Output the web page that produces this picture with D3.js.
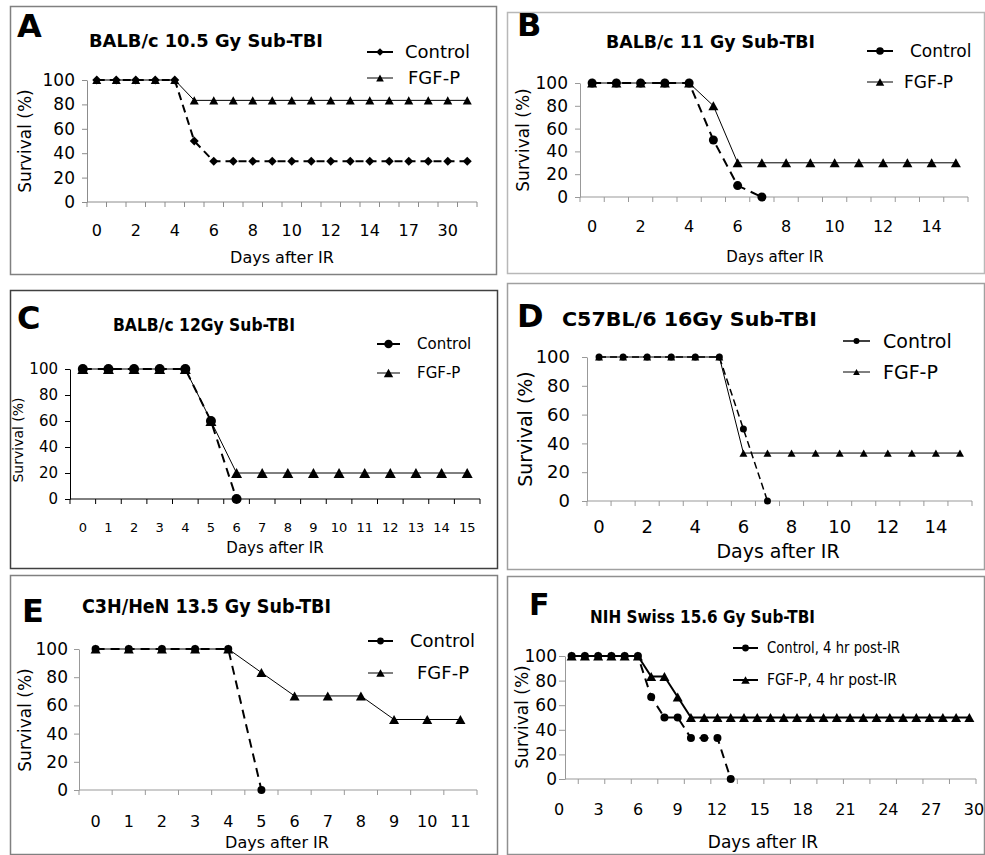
<!DOCTYPE html>
<html>
<head>
<meta charset="utf-8">
<script src="https://cdn.jsdelivr.net/npm/d3@7"></script>
<style>
  body { margin: 0; background: #fff; }
  svg { display: block; }
  text { font-family: "DejaVu Sans", sans-serif; fill: #000; }
</style>
</head>
<body>
<svg id="chart" width="985" height="855"></svg>
<script>
// ---- data ----
const yTicks = [0, 20, 40, 60, 80, 100];
const legendLabels = ["Control", "FGF-P"];
const legendLabelsF = ["Control, 4 hr post-IR", "FGF-P, 4 hr post-IR"];

// A: BALB/c 10.5 Gy
const daysA = ["0","1","2","3","4","5","6","7","8","9","10","11","12","13","14","15","17","21","30","31"];
const controlA = [100,100,100,100,100,50,33.3,33.3,33.3,33.3,33.3,33.3,33.3,33.3,33.3,33.3,33.3,33.3,33.3,33.3];
const fgfA = [100,100,100,100,100,83.3,83.3,83.3,83.3,83.3,83.3,83.3,83.3,83.3,83.3,83.3,83.3,83.3,83.3,83.3];

// B: BALB/c 11 Gy
const daysB = ["0","1","2","3","4","5","6","7","8","9","10","11","12","13","14","15"];
const controlB = [100,100,100,100,100,50,10,0];
const fgfB = [100,100,100,100,100,80,30,30,30,30,30,30,30,30,30,30];

// C: BALB/c 12 Gy
const daysC = ["0","1","2","3","4","5","6","7","8","9","10","11","12","13","14","15"];
const controlC = [100,100,100,100,100,60,0];
const fgfC = [100,100,100,100,100,60,20,20,20,20,20,20,20,20,20,20];

// D: C57BL/6 16 Gy
const daysD = ["0","1","2","3","4","5","6","7","8","9","10","11","12","13","14","15"];
const controlD = [100,100,100,100,100,100,50,0];
const fgfD = [100,100,100,100,100,100,33.3,33.3,33.3,33.3,33.3,33.3,33.3,33.3,33.3,33.3];

// E: C3H/HeN 13.5 Gy
const daysE = ["0","1","2","3","4","5","6","7","8","9","10","11"];
const controlE = [100,100,100,100,100,0];
const fgfE = [100,100,100,100,100,83.3,66.7,66.7,66.7,50,50,50];

// F: NIH Swiss 15.6 Gy
const daysF = ["1","2","3","4","5","6","7","8","9","10","11","12","13","14","15","16","17","18","19","20","21","22","23","24","25","26","27","28","29","30","31"];
const controlF = [100,100,100,100,100,100,66.7,50,50,33.3,33.3,33.3,0];
const fgfF = [100,100,100,100,100,100,83.3,83.3,66.7,50,50,50,50,50,50,50,50,50,50,50,50,50,50,50,50,50,50,50,50,50,50];
const tickLabelsF = [0, 3, 6, 9, 12, 15, 18, 21, 24, 27, 30];

const svg = d3.select('#chart');

function markerPath(type, s) {
  if (type === 'diamond') return `M0,${-s}L${s},0L0,${s}L${-s},0Z`;
  if (type === 'triangle') {
    const h = s * 0.9;
    return `M0,${-h / 2}L${s / 2},${h / 2}L${-s / 2},${h / 2}Z`;
  }
  return `M${s},0A${s},${s} 0 1,1 ${-s},0A${s},${s} 0 1,1 ${s},0Z`;
}

function drawPanel(p) {
  const g = svg.append('g').attr('class', 'panel-' + p.id);
  const font = p.font || '"DejaVu Sans", sans-serif';
  const [bx0, by0, bx1, by1] = p.box;
  g.append('rect')
    .attr('x', bx0 + 0.5).attr('y', by0 + 0.5)
    .attr('width', bx1 - bx0).attr('height', by1 - by0)
    .attr('fill', 'none').attr('stroke', p.boxColor).attr('stroke-width', 1.5);

  const x = d3.scaleBand().domain(p.days).range([p.plot.x0, p.plot.x1]);
  const y = d3.scaleLinear().domain([0, 100]).range([p.plot.bottom, p.plot.top]);
  const cx = d => x(d) + x.bandwidth() / 2;

  // y axis
  const ya = g.append('g')
    .attr('transform', `translate(${p.plot.x0},0)`)
    .call(d3.axisLeft(y).tickValues(yTicks).tickSize(p.yLab.tick).tickPadding(p.yLab.pad).tickSizeOuter(0));
  ya.select('.domain').attr('stroke', p.axisColor);
  ya.selectAll('.tick line').attr('stroke', p.axisColor);
  ya.selectAll('.tick text')
    .attr('font-size', p.yLab.size).attr('font-family', font).attr('fill', '#000');

  // x axis: ticks sit between categories
  const xa = g.append('g');
  xa.append('line')
    .attr('x1', p.plot.x0).attr('x2', p.plot.x1)
    .attr('y1', p.plot.bottom).attr('y2', p.plot.bottom)
    .attr('stroke', p.axisColor);
  const idx = d3.range(p.tickStart || 0, p.days.length + 1, p.tickStep || 1);
  xa.selectAll('line.tk').data(idx).join('line').attr('class', 'tk')
    .attr('x1', i => p.plot.x0 + i * x.step()).attr('x2', i => p.plot.x0 + i * x.step())
    .attr('y1', p.plot.bottom).attr('y2', p.plot.bottom + 5)
    .attr('stroke', p.axisColor);

  if (p.labelScale) {
    xa.selectAll('text.xl').data(p.labelTicks).join('text').attr('class', 'xl')
      .attr('x', d => p.labelScale(d)).attr('y', p.xLab.y)
      .attr('text-anchor', 'middle').attr('font-size', p.xLab.size).attr('font-family', font)
      .text(d => d);
  } else {
    xa.selectAll('text.xl').data(p.days.filter((d, i) => i % p.labelEvery === 0)).join('text').attr('class', 'xl')
      .attr('x', d => cx(d)).attr('y', p.xLab.y)
      .attr('text-anchor', 'middle').attr('font-size', p.xLab.size).attr('font-family', font)
      .text(d => d);
  }

  // axis titles
  g.append('text')
    .attr('transform', `translate(${p.yTitle.x},${p.yTitle.y}) rotate(-90)`)
    .attr('text-anchor', 'middle').attr('dy', '0.35em')
    .attr('font-size', p.yTitle.size).attr('font-family', font)
    .text('Survival (%)');
  g.append('text')
    .attr('x', p.xTitle.x).attr('y', p.xTitle.y)
    .attr('text-anchor', 'middle')
    .attr('font-size', p.xTitle.size).attr('font-family', font)
    .text('Days after IR');

  // panel letter + title
  g.append('text')
    .attr('x', p.letter.x).attr('y', p.letter.y)
    .attr('font-size', p.letter.size).attr('font-weight', 'bold')
    .attr('font-family', '"Liberation Sans", Arial, sans-serif')
    .text(p.id);
  g.append('text')
    .attr('x', p.titleStyle.x).attr('y', p.titleStyle.y)
    .attr('font-size', p.titleStyle.size).attr('font-weight', 'bold')
    .attr('textLength', p.titleStyle.len).attr('lengthAdjust', 'spacingAndGlyphs')
    .text(p.title);

  // series
  const series = [
    { vals: p.control, st: p.ctrl },
    { vals: p.fgf, st: p.fg }
  ];
  const line = d3.line().x(d => cx(d.day)).y(d => y(d.v));
  series.forEach(s => {
    s.pts = s.vals.map((v, i) => ({ day: p.days[i], v: v }));
    g.append('path').datum(s.pts)
      .attr('d', line)
      .attr('fill', 'none').attr('stroke', '#000')
      .attr('stroke-width', s.st.width)
      .attr('stroke-dasharray', s.st.dash || null);
  });
  [series[1], series[0]].forEach(s => {
    g.selectAll(null).data(s.pts).join('path')
      .attr('transform', d => `translate(${cx(d.day)},${y(d.v)})`)
      .attr('d', markerPath(s.st.marker, s.st.size))
      .attr('fill', '#000');
  });

  // legend
  const labels = p.legend;
  series.forEach((s, i) => {
    const ly = p.leg.ys[i];
    g.append('line')
      .attr('x1', p.leg.x1).attr('x2', p.leg.x2).attr('y1', ly).attr('y2', ly)
      .attr('stroke', '#000').attr('stroke-width', s.st.width);
    g.append('path')
      .attr('transform', `translate(${(p.leg.x1 + p.leg.x2) / 2},${ly})`)
      .attr('d', markerPath(s.st.marker, s.st.size * 0.85))
      .attr('fill', '#000');
    const t = g.append('text')
      .attr('x', p.leg.tx[i]).attr('y', ly).attr('dy', '0.35em')
      .attr('font-size', p.leg.size).attr('font-family', font)
      .text(labels[i]);
    if (p.leg.len) t.attr('textLength', p.leg.len[i]).attr('lengthAdjust', 'spacingAndGlyphs');
  });
}

const panels = [
  {
    id: 'A', days: daysA, control: controlA, fgf: fgfA, legend: legendLabels, labelEvery: 2,
    title: 'BALB/c 10.5 Gy Sub-TBI',
    box: [10, 6, 496, 274], boxColor: '#808080', axisColor: '#8c8c8c',
    plot: { x0: 87, x1: 477, top: 80, bottom: 202 },
    letter: { x: 17, y: 37, size: 32 }, titleStyle: { x: 89, y: 47, size: 18, len: 234 },
    yLab: { size: 17, tick: 5, pad: 7 }, xLab: { y: 236, size: 16 },
    yTitle: { x: 25, y: 141, size: 17 }, xTitle: { x: 282, y: 263, size: 16 },
    leg: { x1: 367, x2: 393, ys: [52, 78], tx: [405, 408], size: 18 },
    ctrl: { marker: 'diamond', size: 4.5, width: 2, dash: '8,5' },
    fg: { marker: 'triangle', size: 9, width: 1 }
  },
  {
    id: 'B', days: daysB, control: controlB, fgf: fgfB, legend: legendLabels, labelEvery: 2,
    title: 'BALB/c 11 Gy Sub-TBI',
    box: [507, 12, 984, 273], boxColor: '#b8b8b8', axisColor: '#999',
    plot: { x0: 580, x1: 968, top: 83, bottom: 197 },
    letter: { x: 517, y: 36, size: 32 }, titleStyle: { x: 606, y: 48, size: 18, len: 209 },
    yLab: { size: 17, tick: 5, pad: 7 }, xLab: { y: 232, size: 16 },
    yTitle: { x: 523, y: 140, size: 17 }, xTitle: { x: 775, y: 262, size: 15 },
    leg: { x1: 867, x2: 893, ys: [51, 82], tx: [910, 904], size: 17 },
    ctrl: { marker: 'circle', size: 4.5, width: 2, dash: '9,6' },
    fg: { marker: 'triangle', size: 10, width: 1 }
  },
  {
    id: 'C', days: daysC, control: controlC, fgf: fgfC, legend: legendLabels, labelEvery: 1,
    title: 'BALB/c 12Gy Sub-TBI', font: '"Liberation Sans", Arial, sans-serif',
    box: [10, 290, 497, 568], boxColor: '#404040', axisColor: '#000',
    plot: { x0: 70, x1: 480, top: 369, bottom: 499 },
    letter: { x: 17, y: 329, size: 32 }, titleStyle: { x: 113, y: 331, size: 17, len: 182 },
    yLab: { size: 15, tick: 5, pad: 7 }, xLab: { y: 532, size: 13 },
    yTitle: { x: 18, y: 440, size: 14 }, xTitle: { x: 275, y: 553, size: 15 },
    leg: { x1: 377, x2: 400, ys: [344, 373], tx: [417, 417], size: 15 },
    ctrl: { marker: 'circle', size: 5, width: 2, dash: '9,6' },
    fg: { marker: 'triangle', size: 11, width: 1 }
  },
  {
    id: 'D', days: daysD, control: controlD, fgf: fgfD, legend: legendLabels, labelEvery: 2,
    title: 'C57BL/6 16Gy Sub-TBI',
    box: [507, 283, 984, 569], boxColor: '#a0a0a0', axisColor: '#999',
    plot: { x0: 587, x1: 972, top: 357, bottom: 501 },
    letter: { x: 517, y: 327, size: 32 }, titleStyle: { x: 562, y: 326, size: 20, len: 255 },
    yLab: { size: 18, tick: 5, pad: 12 }, xLab: { y: 533, size: 18 },
    yTitle: { x: 525, y: 429, size: 19 }, xTitle: { x: 778, y: 558, size: 19 },
    leg: { x1: 843, x2: 870, ys: [341, 372], tx: [883, 883], size: 19 },
    ctrl: { marker: 'circle', size: 3.5, width: 1.5, dash: '7,4' },
    fg: { marker: 'triangle', size: 8, width: 1 }
  },
  {
    id: 'E', days: daysE, control: controlE, fgf: fgfE, legend: legendLabels, labelEvery: 1,
    title: 'C3H/HeN 13.5 Gy Sub-TBI',
    box: [10, 575, 497, 854], boxColor: '#808080', axisColor: '#999',
    plot: { x0: 79, x1: 477, top: 649, bottom: 790 },
    letter: { x: 22, y: 622, size: 32 }, titleStyle: { x: 82, y: 613, size: 19, len: 249 },
    yLab: { size: 17, tick: 5, pad: 6 }, xLab: { y: 827, size: 16 },
    yTitle: { x: 25, y: 720, size: 17 }, xTitle: { x: 277, y: 848, size: 16 },
    leg: { x1: 368, x2: 393, ys: [641, 673], tx: [410, 417], size: 18 },
    ctrl: { marker: 'circle', size: 4, width: 2, dash: '9,6' },
    fg: { marker: 'triangle', size: 10, width: 1 }
  },
  {
    id: 'F', days: daysF, control: controlF, fgf: fgfF, legend: legendLabelsF,
    title: 'NIH Swiss 15.6 Gy Sub-TBI', font: '"Liberation Sans", Arial, sans-serif',
    box: [507, 576, 984, 854], boxColor: '#909090', axisColor: '#999',
    plot: { x0: 565, x1: 976, top: 656, bottom: 779 },
    tickStart: 1, tickStep: 2,
    labelTicks: tickLabelsF,
    labelScale: d3.scaleLinear().domain([0, 12, 30]).range([559, 717, 974]),
    letter: { x: 529, y: 615, size: 30 }, titleStyle: { x: 590, y: 623, size: 18, len: 225 },
    yLab: { size: 17, tick: 6, pad: 2 }, xLab: { y: 815, size: 16 },
    yTitle: { x: 522, y: 717, size: 17 }, xTitle: { x: 763, y: 848, size: 17 },
    leg: { x1: 733, x2: 758, ys: [648, 680], tx: [767, 767], size: 15, len: [133, 130] },
    ctrl: { marker: 'circle', size: 4, width: 2, dash: '9,6' },
    fg: { marker: 'triangle', size: 10, width: 2 }
  }
];

panels.forEach(drawPanel);
</script>
</body>
</html>
